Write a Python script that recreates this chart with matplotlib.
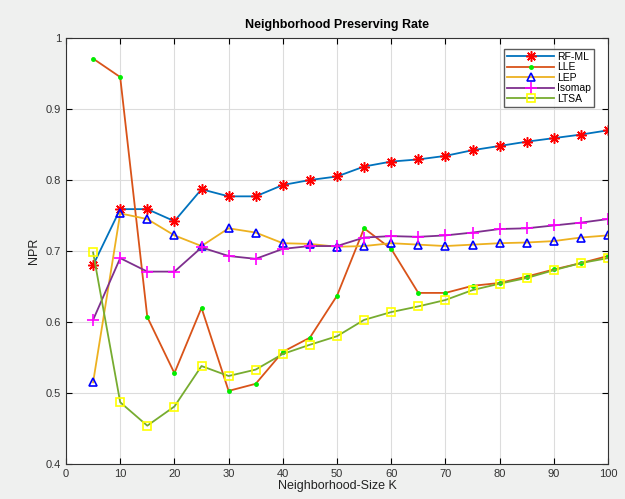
import numpy as np
import matplotlib
matplotlib.use("Agg")
import matplotlib.pyplot as plt

plt.rcParams['font.family'] = ['Liberation Sans', 'DejaVu Sans']

k = list(range(5, 101, 5))

rf_ml = [0.680, 0.759, 0.759, 0.742, 0.787, 0.777, 0.777, 0.793, 0.800, 0.805,
         0.819, 0.826, 0.829, 0.834, 0.842, 0.848, 0.854, 0.859, 0.864, 0.870]
lle = [0.971, 0.945, 0.607, 0.528, 0.620, 0.503, 0.513, 0.558, 0.578, 0.637,
       0.732, 0.703, 0.641, 0.641, 0.651, 0.655, 0.664, 0.674, 0.683, 0.693]
lep = [0.515, 0.753, 0.745, 0.722, 0.707, 0.732, 0.726, 0.711, 0.710, 0.706,
       0.707, 0.711, 0.709, 0.707, 0.709, 0.711, 0.712, 0.714, 0.719, 0.722]
isomap = [0.603, 0.690, 0.671, 0.671, 0.705, 0.693, 0.689, 0.703, 0.707, 0.707,
          0.719, 0.721, 0.720, 0.722, 0.726, 0.731, 0.732, 0.736, 0.740, 0.745]
ltsa = [0.698, 0.487, 0.454, 0.481, 0.538, 0.524, 0.533, 0.555, 0.568, 0.580,
        0.603, 0.614, 0.622, 0.631, 0.645, 0.654, 0.662, 0.673, 0.683, 0.690]

fig = plt.figure(figsize=(6.25, 4.99), dpi=100, facecolor='#eff0ef')
ax = fig.add_axes([0.1056, 0.0701, 0.8672, 0.8537])
ax.set_facecolor('white')

# MATLAB-style asterisk: 8 spokes
ax.plot(k, rf_ml, color='#0072BD', lw=1.3, marker=(8, 2, 0), ms=7.5, mec='red', mew=1.1, label='RF-ML')
ax.plot(k, lle, color='#D95319', lw=1.3, marker='.', ms=5, mfc='#00ee00', mec='#00ee00', label='LLE')
ax.plot(k, lep, color='#EDB120', lw=1.3, marker='^', ms=6, mfc='none', mec='blue', mew=1.2, label='LEP')
ax.plot(k, isomap, color='#7E2F8E', lw=1.3, marker='+', ms=8, mec='magenta', mew=1.2, label='Isomap')
ax.plot(k, ltsa, color='#77AC30', lw=1.3, marker='s', ms=6, mfc='none', mec='yellow', mew=1.2, label='LTSA')

ax.set_xlim(0, 100)
ax.set_ylim(0.4, 1)
ax.set_xticks(np.arange(0, 101, 10))
ax.set_yticks(np.arange(0.4, 1.01, 0.1))
ax.set_yticklabels(['0.4', '0.5', '0.6', '0.7', '0.8', '0.9', '1'])
ax.tick_params(direction='in', top=True, right=True, labelsize=8, length=4, labelcolor='#333333')
ax.grid(True, color='#dcdcdc', lw=0.8)
for s in ax.spines.values():
    s.set_color('#333333')
    s.set_linewidth(0.8)

ax.set_title('Neighborhood Preserving Rate', fontsize=9, fontweight='bold', pad=7)
ax.set_xlabel('Neighborhood-Size K', fontsize=9, labelpad=1, color='#222222')
ax.set_ylabel('NPR', fontsize=9, color='#222222')

ax.legend(loc='upper right', bbox_to_anchor=(0.975, 0.975), fontsize=7.5, frameon=True,
          fancybox=False, edgecolor='#333333', borderpad=0.3, labelspacing=0.05,
          handlelength=4.5, handletextpad=0.3, borderaxespad=0)

fig.savefig('out.png', dpi=100, facecolor=fig.get_facecolor())
